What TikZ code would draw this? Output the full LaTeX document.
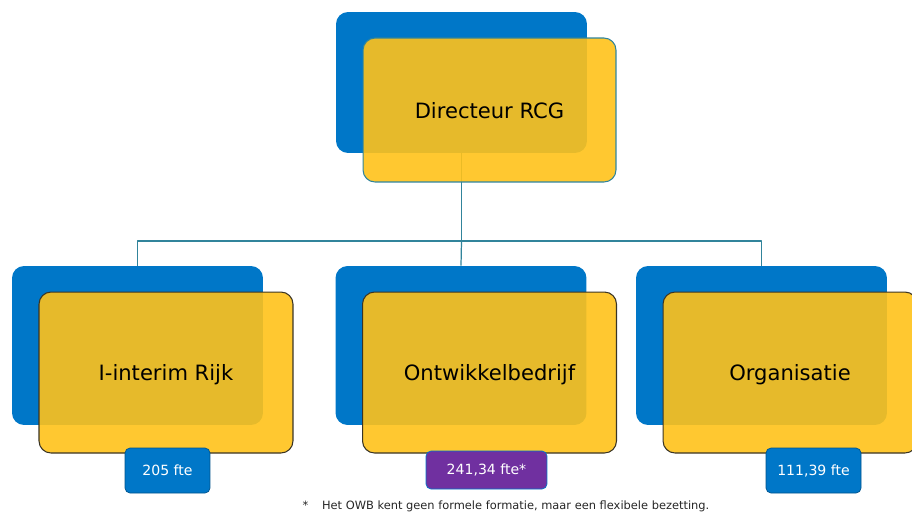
\documentclass[tikz,border=0pt]{standalone}
\usepackage{fontspec}
\setmainfont{DejaVu Sans}
\begin{document}
\begin{tikzpicture}[x=0.02cm, y=-0.02cm, line join=round]

    \definecolor{rcgblue}{HTML}{0077C8}
    \definecolor{rcgyellow}{HTML}{FFC21A}
    \definecolor{rcgpurple}{HTML}{7030A0}
    \definecolor{rcgteal}{HTML}{31849B}
    \definecolor{rcgedge}{HTML}{3A3424}

    \useasboundingbox (0,0) rectangle (912,512);

    \tikzset{
      back/.style={
        fill=rcgblue, rounded corners=0.24cm, inner sep=0pt,
        minimum width=5.02cm, minimum height=3.18cm
      },
      unit/.style={
        fill=rcgyellow, fill opacity=0.9, text opacity=1, draw=rcgedge,
        line width=0.6pt, rounded corners=0.24cm, inner sep=0pt,
        minimum width=5.08cm, minimum height=3.22cm, text depth=0pt,
        font=\fontsize{12}{14}\selectfont
      },
      fte/.style={
        fill=rcgblue, draw=rcgblue!70!black, line width=0.4pt,
        rounded corners=0.1cm, inner sep=0pt, text=white,
        minimum width=1.7cm, minimum height=0.9cm,
        font=\fontsize{8}{10}\selectfont
      },
      link/.style={draw=rcgteal, line width=0.7pt}
    }

    % blue backdrops
    \node[back, minimum height=2.82cm] (dirback) at (461.5,82.5) {};
    \node[back] (iirback) at (137.5,345.5) {};
    \node[back] (owbback) at (461,345.5) {};
    \node[back] (orgback) at (761.5,345.5) {};

    % tree
    \coordinate (split) at (461.5,241);
    \draw[link] (dirback.south) -- (split);
    \draw[link] (iirback.north) |- (split) -| (orgback.north);
    \draw[link] (split) -- (owbback.north);

    % units
    \node[unit, draw=rcgteal, minimum width=5.06cm, minimum height=2.88cm]
      (dir) at (489.5,110) {Directeur RCG};
    \node[unit] (iir) at (166,372.5) {I-interim Rijk};
    \node[unit] (owb) at (489.5,372.5) {Ontwikkelbedrijf};
    \node[unit] (org) at (790,372.5) {Organisatie};

    % formation
    \node[fte] (iirfte) at (167.5,470.5) {205 fte};
    \node[fte, fill=rcgpurple, draw=rcgblue, minimum width=2.42cm,
      minimum height=0.76cm] (owbfte) at (486.5,470) {241,34 fte*};
    \node[fte, minimum width=1.9cm] (orgfte) at (813.5,470.5) {111,39 fte};

    \node[font=\fontsize{6.5}{8}\selectfont, text=black!85] (note) at (506,506)
      {*\hspace{1.2em}Het OWB kent geen formele formatie, maar een flexibele bezetting.};

\end{tikzpicture}
\end{document}
